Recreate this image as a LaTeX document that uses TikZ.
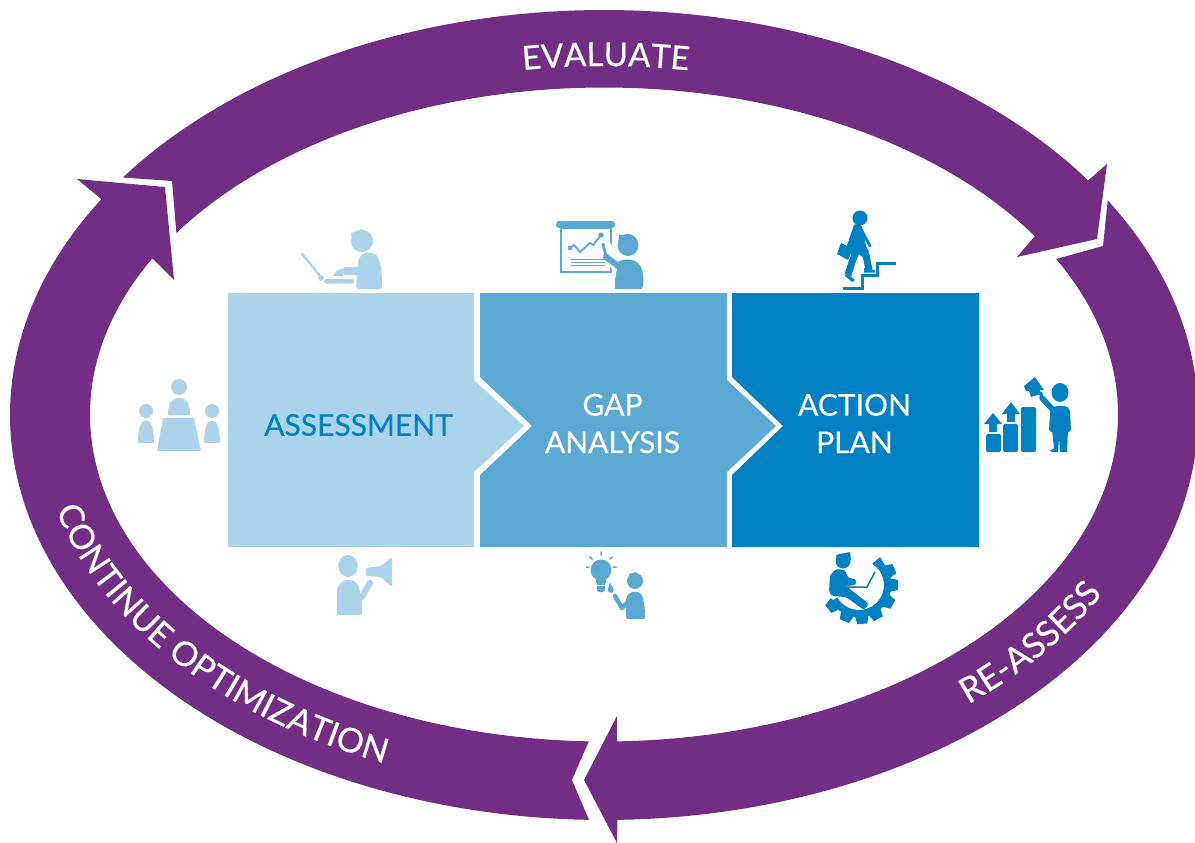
\documentclass[tikz,border=0pt]{standalone}
\usepackage{fontspec}
\setmainfont{Lato}[FakeBold=0.25,UprightFont=*,BoldFont=*]
\newfontfamily\heavy{Lato}[UprightFeatures={FakeBold=0.35}]
\usetikzlibrary{decorations.text}
\definecolor{arcpurple}{HTML}{722E85}
\definecolor{blockA}{HTML}{ABD3E9}
\definecolor{blockB}{HTML}{59A9D3}
\definecolor{blockC}{HTML}{0081C3}
\newcommand{\Ox}[1]{{604+594*cos(#1)},{415-405*sin(#1)}}
\newcommand{\Ix}[1]{{604+514*cos(#1)},{414.5-327*sin(#1)}}
\tikzset{
  x=1pt,y=-1pt,
  outerarc/.style={smooth,samples=90,variable=\t},
  blocklabel/.style={font=\heavy\fontsize{30}{37.5}\selectfont,align=center,inner sep=0pt},
  icA/.style={fill=blockA,draw=none},
  icB/.style={fill=blockB,draw=none},
  icC/.style={fill=blockC,draw=none},
}
\begin{document}
\begin{tikzpicture}
\useasboundingbox (0,0) rectangle (1195,843);
\clip (0,0) rectangle (1195,843);
% ---- ring arrows
\fill[arcpurple] plot[outerarc,domain=144.1:35.4] (\Ox{\t}) -- (1107,164) -- (1097,239) -- (1017,257) -- (1034,237)
  -- plot[outerarc,domain=33:146.3] (\Ix{\t}) -- (172,181) -- cycle;
\fill[arcpurple] plot[outerarc,domain=32:-88.7] (\Ox{\t}) -- (617,843) -- (584,780) -- (617,716) -- (617,741)
  -- plot[outerarc,domain=-88.55:28.4] (\Ix{\t}) -- (1103,246) -- cycle;
\fill[arcpurple] plot[outerarc,domain=268.55:147.8] (\Ox{\t}) -- (77,179) -- (165,187) -- (174,280) -- (153,259)
  -- plot[outerarc,domain=151.6:268.3] (\Ix{\t}) -- (572,780) -- cycle;
% ---- ring labels
\path[decorate,decoration={text along path,text align=center,text={|\heavy\fontsize{33}{38}\selectfont\color{white}|EVALUATE}}]
  ({604+537*cos(114.8)},{415-349*sin(114.8)}) arc[start angle=114.8,end angle=64.8,x radius=537pt,y radius=349pt];
\path[decorate,decoration={text along path,text align=center,text={|\heavy\fontsize{34}{39}\selectfont\color{white}|CONTINUE OPTIMIZATION}}]
  ({604+566*cos(185.5)},{415-378*sin(185.5)}) arc[start angle=185.5,end angle=253.5,x radius=566pt,y radius=378pt];
\path[decorate,decoration={text along path,text align=center,text={|\heavy\fontsize{35}{40}\selectfont\color{white}|RE-ASSESS}}]
  ({604+566*cos(-59)},{415-378*sin(-59)}) arc[start angle=-59,end angle=-17,x radius=566pt,y radius=378pt];
% ---- blocks
\fill[blockA] (228,293) -- (474,293) -- (474,380) -- (524,426) -- (474,472) -- (474,547) -- (228,547) -- cycle;
\fill[blockB] (480,293) -- (727,293) -- (727,380) -- (776,426) -- (727,472) -- (727,547) -- (480,547) -- (480,475) -- (532,426) -- (480,377) -- cycle;
\fill[blockC] (732,293) -- (979,293) -- (979,547) -- (732,547) -- (732,475) -- (783,426) -- (732,377) -- cycle;
\node[blocklabel,text=blockC] (assess) at (358.5,425) {ASSESSMENT};
\node[blocklabel,text=white] (gap) at (612.5,423.5) {GAP\\ANALYSIS};
\node[blocklabel,text=white] (action) at (854.5,423.5) {ACTION\\PLAN};
% ---- laptop person
\fill[icA] (362,241) circle (11);
\fill[icA] (351,233) -- (362,229) -- (362,241) -- (353,246) -- cycle;
\fill[icA,rounded corners=3] (356,289) -- (358,262) .. controls (360,255) and (366,252) .. (371,253) .. controls (379,255) and (382,265) .. (382,289) -- cycle;
\fill[icA,rounded corners=2] (343,267) -- (365,267) -- (365,275) -- (343,275) -- cycle;
\fill[icA] (333,276) .. controls (335,270) and (340,269) .. (343,269) -- (343,276) -- cycle;
\draw[blockA,line width=2.4,line cap=round] (302,254) -- (321,277);
\fill[icA] (321,278) circle (3);
\fill[icA,rounded corners=1.5] (324,279) rectangle (354,283.5);
% ---- presenter
\fill[icB,rounded corners=3] (556,221) rectangle (615,228);
\draw[blockB,line width=2.4] (561,228) rectangle (611,272);
\draw[blockB,line width=1.8] (570,248) -- (574,245) -- (580,252) -- (590,243) -- (593,245) -- (601,235);
\fill[icB] (570,248) circle (2.4) (601,235) circle (2.6);
\draw[blockB,line width=1.1] (571,259.5) -- (605,259.5) (571,262.5) -- (605,262.5) (571,265.5) -- (605,265.5);
\fill[icB] (628,245) circle [x radius=10.5,y radius=11];
\fill[icB] (619,235) -- (630,234) -- (632,244) -- (618,245) -- cycle;
\fill[white] (602,240) -- (608,240) -- (622,260) -- (614,272) -- (600,252) -- cycle;
\fill[icB] (615,289) -- (615,280) -- (618,262) .. controls (624,258) and (634,259) .. (638,263) .. controls (643,268) and (645,278) .. (642,289) -- cycle;
\draw[blockB,line width=6,line cap=round] (606,257) -- (621,268);
\draw[blockB,line width=3,line cap=round] (603,244) -- (606,256);
% ---- walker
\fill[icC] (860,218) circle (7.5);
\fill[icC] (855,214) -- (865,213) -- (866,219) -- (855,221) -- cycle;
\fill[icC] (854,225) .. controls (858,222) and (862,224) .. (863,230) -- (866,246) -- (869,252) -- (851,254) -- (846,248) -- cycle;
\draw[blockC,line width=2.8,line cap=round] (862,231) -- (870,246);
\draw[blockC,line width=7,line join=round] (859,250) -- (866,255) -- (869,270);
\fill[icC] (864,268) -- (875,270) -- (875,272.5) -- (864,272.5) -- cycle;
\draw[blockC,line width=7,line join=round] (856,252) -- (852,262) -- (848,275);
\fill[icC] (844,275) -- (848,274) -- (855,280) -- (852,282) -- cycle;
\fill[icC] (841,243) -- (853,249) -- (848,260) -- (837,254) -- cycle;
\draw[blockC,line width=3] (843,288) -- (862,288) -- (862,275) -- (877,275) -- (877,263) -- (896,263);
% ---- meeting
\fill[icA] (179,387) circle (8);
\fill[icA,rounded corners=1] (168,415) .. controls (168,405) and (171,398) .. (179,398) .. controls (187,398) and (190,405) .. (190,415) -- cycle;
\fill[icA,rounded corners=1] (163,418) -- (194,418) -- (201,451) -- (157,451) -- cycle;
\foreach \px in {146,212}{
  \fill[icA] (\px,411) circle (7);
  \fill[icA,rounded corners=1] ({\px-8},443) .. controls ({\px-8},432) and ({\px-6},421) .. (\px,421) .. controls ({\px+6},421) and ({\px+8},432) .. ({\px+8},443) -- cycle;
}
% ---- bars person
\fill[icC,rounded corners=2] (986,434) rectangle (1001,452);
\fill[icC,rounded corners=2] (1003,424) rectangle (1018,452);
\fill[icC,rounded corners=2] (1021,407) rectangle (1036,452);
\fill[icC] (984,424) -- (993,413) -- (1002,424) -- (997,424) -- (997,432) -- (989,432) -- (989,424) -- cycle;
\fill[icC] (1002,414) -- (1011,402) -- (1020,414) -- (1015,414) -- (1015,422) -- (1007,422) -- (1007,414) -- cycle;
\fill[icC] (1024,386) -- (1035,377) -- (1044,390) -- (1040,390) -- (1041,394) -- (1031,397) -- (1029,391) -- (1026,391) -- cycle;
\fill[icC] (1060,392.5) circle [x radius=8.5,y radius=9.5];
\fill[icC,rounded corners=3] (1049,432) -- (1050,412) .. controls (1052,405) and (1066,405) .. (1070,410) -- (1071,432) -- cycle;
\fill[icC] (1052,430) -- (1068,430) -- (1067,452) -- (1060,452) -- (1059,438) -- (1058,452) -- (1051,452) -- (1050,450) -- (1054,449) -- cycle;
\draw[blockC,line width=5.5,line cap=round] (1042,398) -- (1053,410);
\fill[icC] (1039,392) -- (1042,392) -- (1044,398) -- (1040,398) -- cycle;
% ---- megaphone
\fill[icA] (348,566) circle [x radius=9.8,y radius=11];
\fill[icA,rounded corners=2] (337,615) -- (337,592) .. controls (338,583) and (345,579) .. (350,580) .. controls (356,581) and (359,585) .. (360,593) -- (362,603) -- (362,615) -- cycle;
\draw[blockA,line width=6,line cap=round] (361,598) -- (370,583);
\fill[icA,rounded corners=1.5] (366,568) -- (381,566) -- (392,557) -- (392,587) -- (381,577) -- (366,576) -- cycle;
% ---- bulb person
\fill[icB] (601,570) circle (10.5);
\fill[icB] (595,577) -- (607,577) -- (605,585) -- (597,585) -- cycle;
\fill[icB] (597,586) -- (605,586) -- (605,590) .. controls (604,593) and (598,593) .. (597,590) -- cycle;
\draw[blockB,line width=1.5,line cap=round] (601,552) -- (601,555) (590,557) -- (592,559) (612,557) -- (610,559) (586,567) -- (589,567) (616,567) -- (613,567);
\fill[icB] (635,581) circle (8);
\fill[icB] (629,574) -- (636,572) -- (640,578) -- (630,582) -- cycle;
\fill[icB,rounded corners=1.5] (626,619) -- (626,600) .. controls (627,594) and (632,591) .. (637,592) .. controls (642,593) and (645,600) .. (645,619) -- cycle;
\draw[blockB,line width=4.5,line cap=round,line join=round] (615,596) -- (622,608) -- (628,602);
\fill[icB] (610,582) .. controls (612,587) and (615,589) .. (613,592) .. controls (611,594) and (607,592) .. (608,589) -- cycle;
% ---- gear person
\draw[blockC,line width=7.5] plot[smooth,samples=40,variable=\t,domain=52:-150] ({859+28.5*cos(\t)},{585-28.5*sin(\t)});
\foreach \a in {25,0,-30,-60,-85,-112,-142}{
  \fill[icC,rotate around={\a:(859,585)}] (889,578) -- (898,580) -- (898,590) -- (889,592) -- cycle;
}
\fill[icC] (872,564) -- (880,557) -- (888,570) -- (880,572) -- cycle;
\fill[white] (859,585) circle (24.8);
\fill[icC] (843,561) circle (7.5);
\fill[icC] (836,555) -- (850,552) -- (851,560) -- (840,565) -- cycle;
\fill[icC,rounded corners=2.5] (829,592) -- (830,575) -- (836,569) -- (845,570) -- (848,578) -- (856,579) -- (856,585) -- (846,586) -- (850,589) -- (869,604) -- (864,610) -- (846,597) -- (832,596) -- cycle;
\draw[blockC,line width=1.5] (848,587) -- (867,587) -- (875,572);
\end{tikzpicture}
\end{document}
